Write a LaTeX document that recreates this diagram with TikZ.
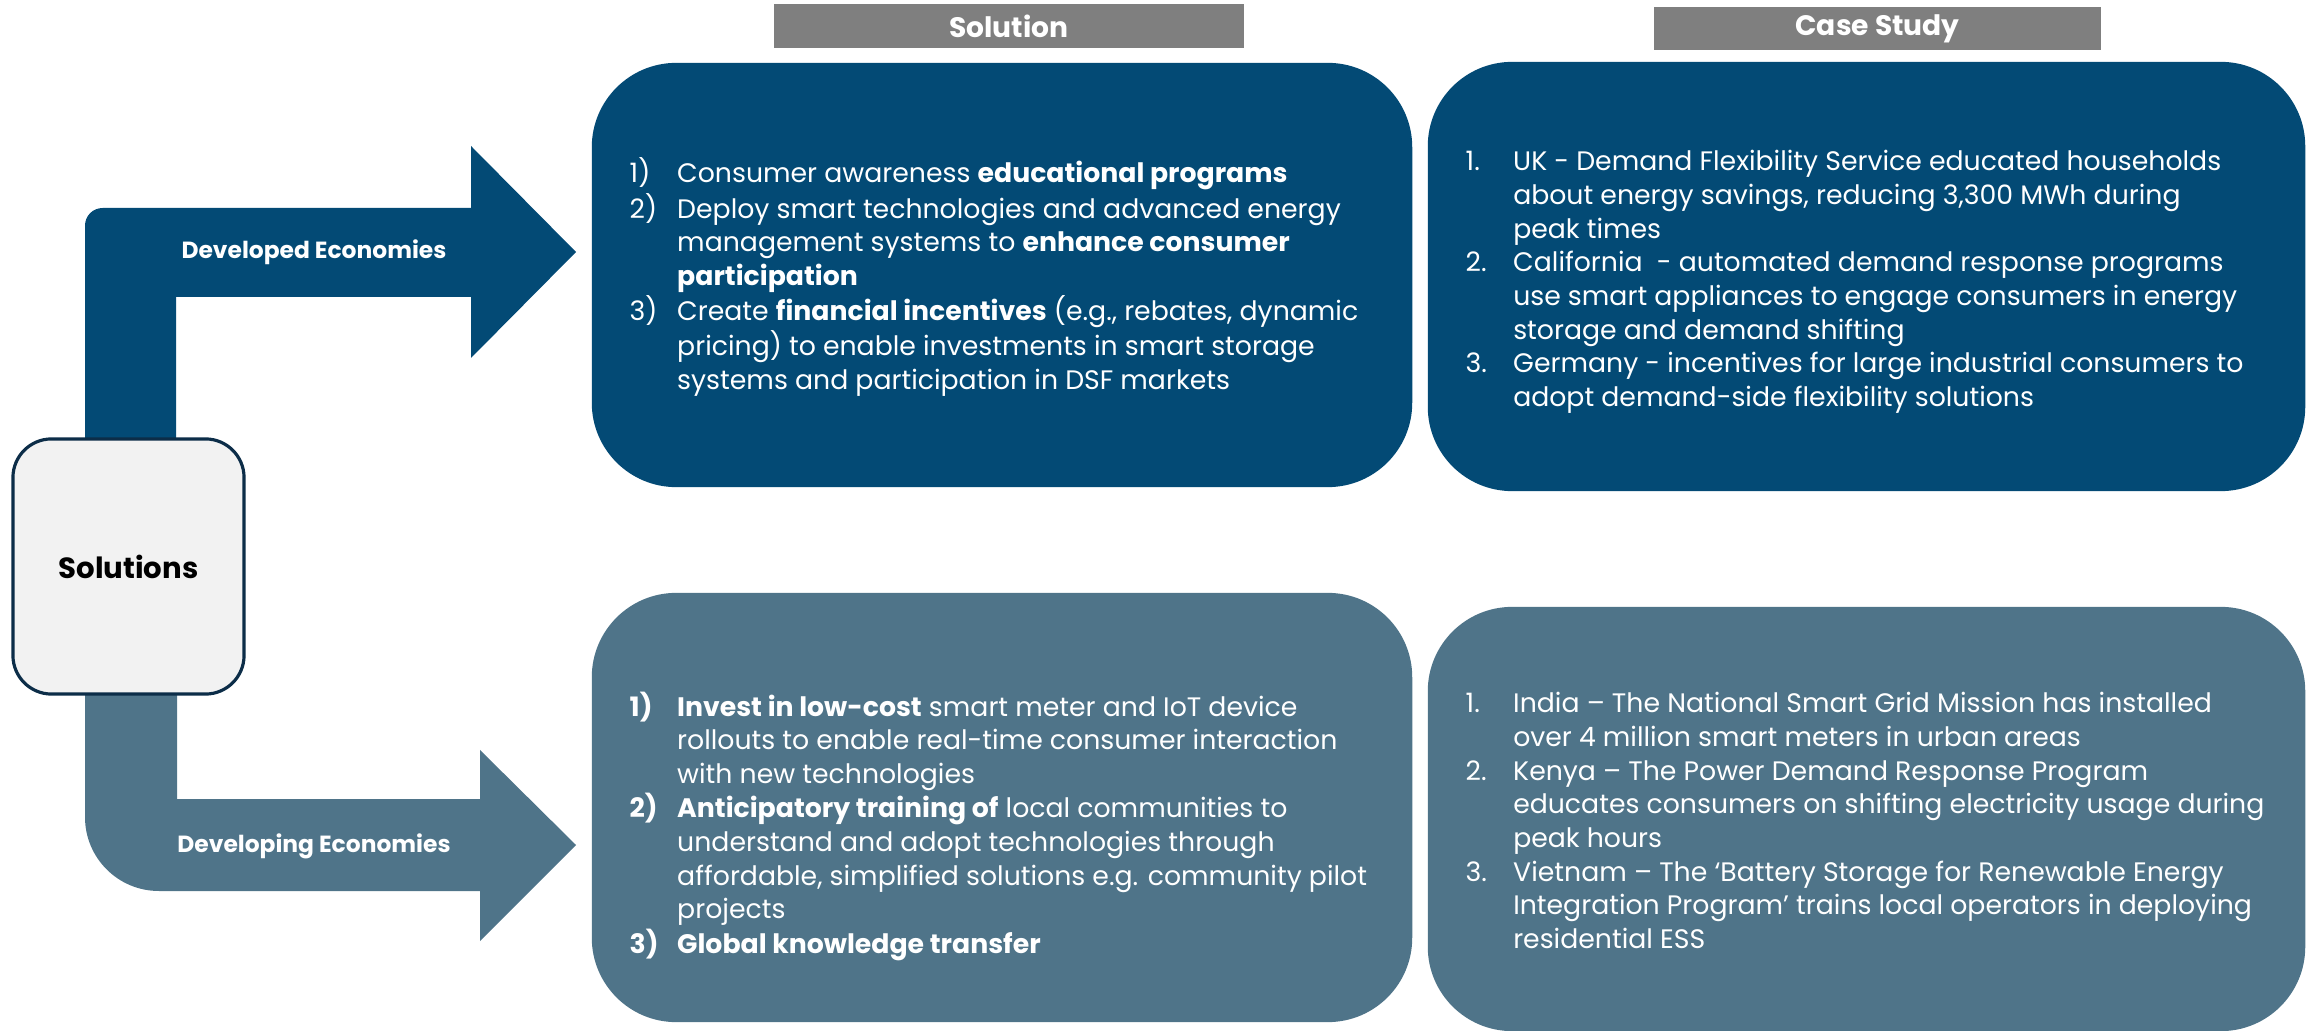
\documentclass[tikz,border=0pt]{standalone}
\usepackage{fontspec}
\setmainfont{Poppins}
\usepackage{xcolor}
\usetikzlibrary{positioning}

\definecolor{devblue}{HTML}{034A75}
\definecolor{dvgblue}{HTML}{4F7489}
\definecolor{headgray}{HTML}{7F7F7F}
\definecolor{solfill}{HTML}{F2F2F2}
\definecolor{solline}{HTML}{0C2D48}

\begin{document}
\begin{tikzpicture}[
        x=0.01cm, y=-0.01cm,
        panel/.style={rounded corners=24pt, inner sep=0pt},
        header/.style={fill=headgray, text=white, inner sep=0pt,
          font=\fontsize{8pt}{9pt}\selectfont\bfseries},
        listtext/.style={text=white, inner sep=0pt, anchor=base west,
          font=\fontsize{7.6pt}{9.57pt}\selectfont},
        armlabel/.style={text=white, font=\fontsize{6.65pt}{8pt}\selectfont\bfseries},
      ]

      \useasboundingbox (0,0) rectangle (2312,1031);

      % the two block arrows
      \fill[devblue] (85,450) [rounded corners=5pt] -- (85,208) [sharp corners]
        -- (471,208) -- (471,146) -- (576,252) -- (471,358) -- (471,297)
        -- (176,297) -- (176,450) -- cycle;
      \fill[dvgblue] (85,680) [rounded corners=21pt] -- (85,891) [sharp corners]
        -- (480,891) -- (480,941) -- (576,845) -- (480,750) -- (480,799)
        -- (177,799) -- (177,680) -- cycle;

      \node[armlabel] (devlbl) at (314,252) {Developed Economies};
      \node[armlabel] (dvglbl) at (314,846) {Developing Economies};

      \node[draw=solline, line width=0.9pt, fill=solfill, rounded corners=11pt,
        minimum width=2.31cm, minimum height=2.55cm,
        font=\fontsize{8.3pt}{10pt}\selectfont\bfseries] (sol) at (128.5,566.5) {Solutions};

      % panels
      \node[panel, fill=devblue, minimum width=8.2cm, minimum height=4.24cm]
        (soldev) at (1002,275) {};
      \node[panel, fill=devblue, minimum width=8.77cm, minimum height=4.29cm]
        (casedev) at (1866.5,276.5) {};
      \node[panel, fill=dvgblue, minimum width=8.2cm, minimum height=4.29cm]
        (soldvg) at (1002,807.5) {};
      \node[panel, fill=dvgblue, minimum width=8.77cm, minimum height=4.24cm]
        (casedvg) at (1866.5,819) {};

      \node[header, minimum width=4.7cm, minimum height=0.44cm,
        above=0.13cm of soldev, xshift=0.07cm] (solhead) {Solution};
      \node[header, minimum width=4.46cm, minimum height=0.43cm,
        above=0.1cm of casedev, xshift=0.11cm] (casehead) {Case Study};

      \node[listtext] (soldevtxt) at (629,183) {%
        \begin{tabular}[t]{@{}p{0.475cm}@{}l@{}}
          1) & Consumer awareness \textbf{educational programs}\\
          2) & Deploy smart technologies and advanced energy\\
             & management systems to \textbf{enhance consumer}\\
             & \textbf{participation}\\
          3) & Create \textbf{financial incentives} (e.g., rebates, dynamic\\
             & pricing) to enable investments in smart storage\\
             & systems and participation in DSF markets
        \end{tabular}};

      \node[listtext] (casedevtxt) at (1465,171) {%
        \begin{tabular}[t]{@{}p{0.475cm}@{}l@{}}
          1. & UK - Demand Flexibility Service educated households\\
             & about energy savings, reducing 3,300 MWh during\\
             & peak times\\
          2. & California\ \ - automated demand response programs\\
             & use smart appliances to engage consumers in energy\\
             & storage and demand shifting\\
          3. & Germany - incentives for large industrial consumers to\\
             & adopt demand-side flexibility solutions
        \end{tabular}};

      \node[listtext] (soldvgtxt) at (629,716) {%
        \begin{tabular}[t]{@{}p{0.475cm}@{}l@{}}
          \textbf{1)} & \textbf{Invest in low-cost} smart meter and IoT device\\
             & rollouts to enable real-time consumer interaction\\
             & with new technologies\\
          \textbf{2)} & \textbf{Anticipatory training of} local communities to\\
             & understand and adopt technologies through\\
             & affordable, simplified solutions e.g. community pilot\\
             & projects\\
          \textbf{3)} & \textbf{Global knowledge transfer}
        \end{tabular}};

      \node[listtext] (casedvgtxt) at (1465,713) {%
        \begin{tabular}[t]{@{}p{0.475cm}@{}l@{}}
          1. & India – The National Smart Grid Mission has installed\\
             & over 4 million smart meters in urban areas\\
          2. & Kenya – The Power Demand Response Program\\
             & educates consumers on shifting electricity usage during\\
             & peak hours\\
          3. & Vietnam – The ‘Battery Storage for Renewable Energy\\
             & Integration Program’ trains local operators in deploying\\
             & residential ESS
        \end{tabular}};

    \end{tikzpicture}
\end{document}
